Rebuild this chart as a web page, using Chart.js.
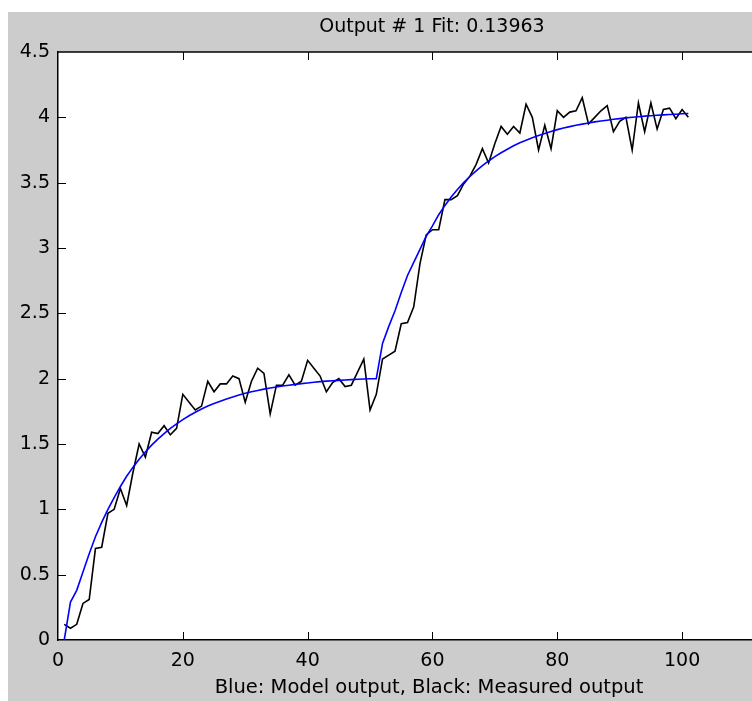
<!DOCTYPE html>
<html>
<head>
<meta charset="utf-8">
<script src="https://cdn.jsdelivr.net/npm/chart.js@4.4.0/dist/chart.umd.min.js"></script>
<style>
html, body { margin: 0; padding: 0; background: #fff; overflow: hidden; }
#wrap { position: absolute; left: 8px; top: 12px; width: 744px; height: 689px; background: #cccccc; }
#wrap canvas { position: absolute; left: 0; top: 0; }
</style>
</head>
<body>
<div id="wrap"><canvas id="fitChart" width="744" height="689"></canvas></div>
<script>
const titleText = 'Output # 1 Fit: 0.13963';
const xLabelText = 'Blue: Model output, Black: Measured output';

const xTickStep = 20;
const yTicks = [0, 0.5, 1, 1.5, 2, 2.5, 3, 3.5, 4, 4.5];

// sample number 1..101
const samples = Array.from({ length: 101 }, (_, i) => i + 1);

const measuredOutput = [
  0.12, 0.09, 0.12, 0.28, 0.31, 0.70, 0.71, 0.97, 1.00, 1.16,
  1.03, 1.28, 1.50, 1.40, 1.59, 1.58, 1.64, 1.57, 1.62, 1.88,
  1.82, 1.76, 1.79, 1.98, 1.90, 1.96, 1.96, 2.02, 2.00, 1.82,
  1.98, 2.08, 2.04, 1.73, 1.95, 1.95, 2.03, 1.95, 1.98, 2.14,
  2.08, 2.02, 1.90, 1.97, 2.00, 1.94, 1.95, 2.05, 2.15, 1.76,
  1.88, 2.15, 2.18, 2.21, 2.42, 2.43, 2.55, 2.88, 3.10, 3.14,
  3.14, 3.37, 3.37, 3.40, 3.49, 3.55, 3.64, 3.76, 3.65, 3.80,
  3.93, 3.87, 3.93, 3.88, 4.10, 4.00, 3.75, 3.94, 3.76, 4.05,
  4.00, 4.04, 4.05, 4.15, 3.95, 4.00, 4.05, 4.09, 3.89, 3.97,
  4.00, 3.75, 4.11, 3.89, 4.11, 3.91, 4.06, 4.07, 3.99, 4.06,
  4.00
];

const modelOutput = [
  0.00, 0.29, 0.38, 0.52, 0.66, 0.79, 0.90, 1.00, 1.09, 1.175,
  1.253, 1.321, 1.383, 1.439, 1.491, 1.537, 1.580, 1.619, 1.654, 1.687,
  1.716, 1.743, 1.768, 1.790, 1.810, 1.828, 1.845, 1.860, 1.875, 1.888,
  1.900, 1.910, 1.920, 1.928, 1.936, 1.944, 1.950, 1.956, 1.962, 1.967,
  1.973, 1.977, 1.981, 1.984, 1.987, 1.990, 1.993, 1.995, 1.997, 1.999,
  2.000, 2.27, 2.40, 2.52, 2.66, 2.79, 2.89, 2.99, 3.09, 3.17,
  3.255, 3.326, 3.390, 3.448, 3.500, 3.547, 3.590, 3.630, 3.666, 3.699,
  3.729, 3.756, 3.782, 3.805, 3.825, 3.844, 3.861, 3.877, 3.892, 3.906,
  3.918, 3.929, 3.939, 3.948, 3.957, 3.965, 3.972, 3.978, 3.985, 3.990,
  3.996, 4.001, 4.005, 4.009, 4.012, 4.016, 4.019, 4.022, 4.024, 4.027,
  4.029
];

const font = '"DejaVu Sans", sans-serif';

// white axes box, inward ticks, top border and the two texts
const matlabFrame = {
  id: 'matlabFrame',
  beforeDraw(c) {
    const { ctx, chartArea: a } = c;
    ctx.save();
    ctx.fillStyle = '#fff';
    ctx.fillRect(a.left, a.top, a.right - a.left, a.bottom - a.top);
    ctx.restore();
  },
  afterDraw(c) {
    const { ctx, chartArea: a, scales } = c;
    const len = 8;
    ctx.save();
    ctx.strokeStyle = '#000';
    ctx.lineWidth = 1.5;
    ctx.beginPath();
    ctx.moveTo(a.left, a.top);
    ctx.lineTo(a.right, a.top);
    ctx.stroke();

    ctx.lineWidth = 1;
    ctx.beginPath();
    scales.x.ticks.forEach(t => {
      const px = Math.round(scales.x.getPixelForValue(t.value)) + 0.5;
      if (px < a.left + 2) return;
      ctx.moveTo(px, a.bottom);
      ctx.lineTo(px, a.bottom - len);
      ctx.moveTo(px, a.top);
      ctx.lineTo(px, a.top + len);
    });
    scales.y.ticks.forEach(t => {
      const py = Math.round(scales.y.getPixelForValue(t.value)) + 0.5;
      if (py > a.bottom - 2 || py < a.top + 2) return;
      ctx.moveTo(a.left, py);
      ctx.lineTo(a.left + len, py);
    });
    ctx.stroke();

    ctx.fillStyle = '#000';
    ctx.textAlign = 'center';
    ctx.textBaseline = 'middle';
    ctx.font = '19px ' + font;
    ctx.fillText(titleText, 424, 15);
    ctx.font = '19.5px ' + font;
    ctx.fillText(xLabelText, 421, 676);
    ctx.restore();
  }
};

new Chart(document.getElementById('fitChart'), {
  type: 'line',
  data: {
    datasets: [
      {
        label: 'Model output',
        data: samples.map((s, i) => ({ x: s, y: modelOutput[i] })),
        borderColor: '#0000ff',
        borderWidth: 1.6,
        pointRadius: 0,
        tension: 0,
        fill: false
      },
      {
        label: 'Measured output',
        data: samples.map((s, i) => ({ x: s, y: measuredOutput[i] })),
        borderColor: '#000000',
        borderWidth: 1.6,
        pointRadius: 0,
        tension: 0,
        fill: false
      }
    ]
  },
  options: {
    responsive: false,
    animation: false,
    layout: { padding: { top: 40, left: 0, right: 0, bottom: 0 } },
    plugins: {
      legend: { display: false },
      title: { display: false },
      tooltip: { enabled: false }
    },
    scales: {
      x: {
        type: 'linear',
        min: 0,
        max: 111.2,
        grid: { display: true, drawOnChartArea: false, drawTicks: false },
        border: { display: true, color: '#000', width: 1.5 },
        ticks: {
          stepSize: xTickStep,
          includeBounds: false,
          color: '#000',
          padding: 10,
          maxRotation: 0,
          font: { family: font, size: 19 }
        },
        afterFit(scale) { scale.height = 61; }
      },
      y: {
        min: yTicks[0],
        max: yTicks[yTicks.length - 1],
        grid: { display: true, drawOnChartArea: false, drawTicks: false },
        border: { display: true, color: '#000', width: 1.5 },
        afterBuildTicks(scale) { scale.ticks = yTicks.map(v => ({ value: v })); },
        ticks: {
          color: '#000',
          padding: 8,
          font: { family: font, size: 19 },
          callback: v => String(v)
        },
        afterFit(scale) { scale.width = 50; }
      }
    }
  },
  plugins: [matlabFrame]
});
</script>
</body>
</html>
